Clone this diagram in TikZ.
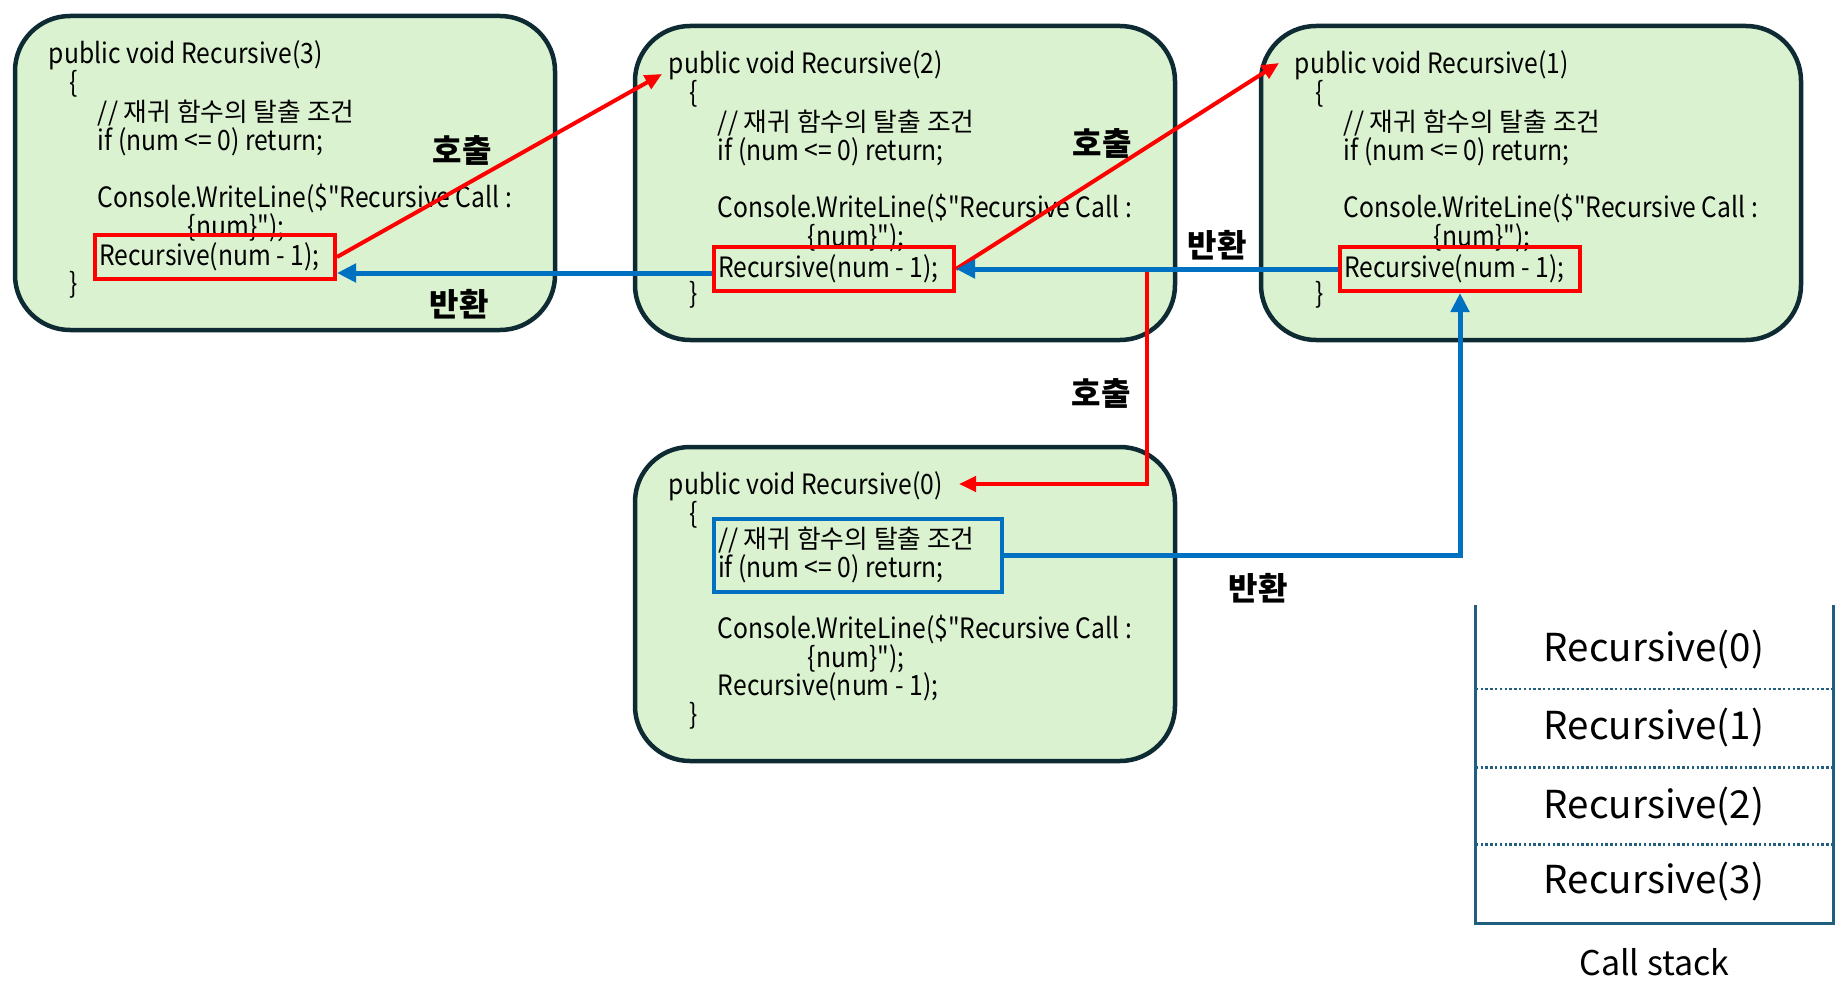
\documentclass[tikz,border=0pt]{standalone}
\usepackage{fontspec}
\setmainfont{Noto Sans CJK KR}
\newfontfamily\codefont[FakeStretch=0.88]{Noto Sans CJK KR}
\newfontfamily\krtext[Scale=0.92]{Noto Sans CJK KR}
\usetikzlibrary{positioning,calc,arrows.meta}
\definecolor{frameclr}{HTML}{0E2A33}
\definecolor{fillclr}{HTML}{DAF2D0}
\definecolor{callclr}{HTML}{FF0000}
\definecolor{retclr}{HTML}{0070C0}
\definecolor{stackclr}{HTML}{215F80}
\lineskiplimit=-100pt
\newcommand{\cdcomment}{{\krtext // 재귀 함수의 탈출 조건}}
\newcommand{\cdexit}{if (num <= 0) return;}
\newcommand{\cdprint}{Console.WriteLine(\$"Recursive Call :}
\newcommand{\cdnum}{\{num\}");}
\newcommand{\cdcall}{Recursive(num - 1);}
\tikzset{ %
  ,x=1pt, y=-1pt
  ,fnbox/.style={draw=frameclr, line width=4.5pt, fill=fillclr, rounded corners=55pt, minimum width=540pt, minimum height=314pt}
  ,codetxt/.style={inner sep=0, align=left, font=\codefont\fontsize{28}{28.7}\selectfont}
  ,hlcall/.style={draw=callclr, line width=4pt, inner xsep=4pt, inner ysep=0, text width=232pt, minimum height=44pt, align=flush left, font=\codefont\fontsize{28}{28.7}\selectfont}
  ,hlexit/.style={draw=retclr, line width=4pt, inner xsep=4pt, inner ysep=0, text width=280pt, minimum height=73pt, align=flush left, font=\codefont\fontsize{28}{28.7}\selectfont}
  ,call/.style={draw=callclr, line width=4pt, -{Triangle[length=17pt, width=15pt]}}
  ,ret/.style={draw=retclr, line width=5pt, -{Triangle[length=19pt, width=18pt]}}
  ,lbl/.style={inner sep=0, font=\fontsize{32}{34}\selectfont\bfseries}
  ,entry/.style={inner sep=0, font=\fontsize{38.5}{42}\selectfont}
  ,stackline/.style={draw=stackclr, line width=3pt}
  ,stackdiv/.style={draw=stackclr, line width=2.5pt, dash pattern=on 2.4pt off 2.4pt}
}
\begin{document}
\begin{tikzpicture}
  \useasboundingbox (0,0) rectangle (1845,987);
  % frames
  \node[fnbox] (f3) at (285,173) {};
  \node[fnbox] (f2) at (905,183) {};
  \node[fnbox] (f1) at (1531,183) {};
  \node[fnbox] (f0) at (905,604) {};
  % code
  \node[codetxt, below right=24pt and 36pt of f3.north west] (t3) {\rule{0pt}{26pt}public void Recursive(3)\\ \hspace*{21pt}\{\\ \hspace*{49pt}\cdcomment\\ \hspace*{49pt}\cdexit\\ \mbox{}\\ \hspace*{49pt}\cdprint\\ \hspace*{139pt}\cdnum\\ \mbox{}\\ \hspace*{21pt}\}};
  \node[codetxt, below right=24pt and 36pt of f2.north west] (t2) {\rule{0pt}{26pt}public void Recursive(2)\\ \hspace*{21pt}\{\\ \hspace*{49pt}\cdcomment\\ \hspace*{49pt}\cdexit\\ \mbox{}\\ \hspace*{49pt}\cdprint\\ \hspace*{139pt}\cdnum\\ \mbox{}\\ \hspace*{21pt}\}};
  \node[codetxt, below right=24pt and 36pt of f1.north west] (t1) {\rule{0pt}{26pt}public void Recursive(1)\\ \hspace*{21pt}\{\\ \hspace*{49pt}\cdcomment\\ \hspace*{49pt}\cdexit\\ \mbox{}\\ \hspace*{49pt}\cdprint\\ \hspace*{139pt}\cdnum\\ \mbox{}\\ \hspace*{21pt}\}};
  \node[codetxt, below right=24pt and 36pt of f0.north west] (t0) {\rule{0pt}{26pt}public void Recursive(0)\\ \hspace*{21pt}\{\\ \mbox{}\\ \mbox{}\\ \mbox{}\\ \hspace*{49pt}\cdprint\\ \hspace*{139pt}\cdnum\\ \hspace*{49pt}\cdcall\\ \hspace*{21pt}\}};
  % highlighted lines
  \node[hlcall] (r3) at (215,257) {\mbox{\cdcall}};
  \node[hlcall] (r2) at (834,269) {\mbox{\cdcall}};
  \node[hlcall] (r1) at (1460,269) {\mbox{\cdcall}};
  \node[hlexit] (x0) at (858,555) {\cdcomment\\ \cdexit};
  % connectors
  \coordinate (in2) at (662,74);
  \coordinate (in1) at (1279,63);
  \coordinate (in0) at (959,484);
  \coordinate (split) at ($(r2.east)!0.5!(r1.west)$);
  \draw[call] (r3.east) -- (in2);
  \draw[call] (r2.east) -- (in1);
  \draw[call] (split) |- (in0);
  \draw[ret] (r1.west) -- (r2.east);
  \draw[ret] ([yshift=-4pt]r2.west) -- ([yshift=-4pt]r2.west -| r3.east);
  \draw[ret] (x0.east) -| (r1.south);
  % labels
  \node[lbl] (c3) at (462,150) {호출};
  \node[lbl] (b3) at (459,304) {반환};
  \node[lbl] (c2) at (1102,143) {호출};
  \node[lbl] (b2) at (1217,245) {반환};
  \node[lbl] (c0) at (1101,393) {호출};
  \node[lbl] (b0) at (1258,588) {반환};
  % call stack
  \node[minimum width=357pt, minimum height=318pt, inner sep=0] (stk) at (1654.5,764) {};
  \node[entry] (s0) at (1654,650) {Recursive(0)};
  \node[entry] (s1) at (1654,728) {Recursive(1)};
  \node[entry] (s2) at (1654,807) {Recursive(2)};
  \node[entry] (s3) at (1654,882) {Recursive(3)};
  \draw[stackline] (stk.north west) -- (stk.south west) -- (stk.south east) -- (stk.north east);
  \foreach \a/\b in {s0/s1,s1/s2,s2/s3}{
    \coordinate (m) at ($(\a)!0.5!(\b)$);
    \draw[stackdiv] (stk.west |- m) -- (stk.east |- m);
  }
  \node[inner sep=0, font=\fontsize{34}{36}\selectfont, below=25pt of stk] (cs) {Call stack};
\end{tikzpicture}
\end{document}
